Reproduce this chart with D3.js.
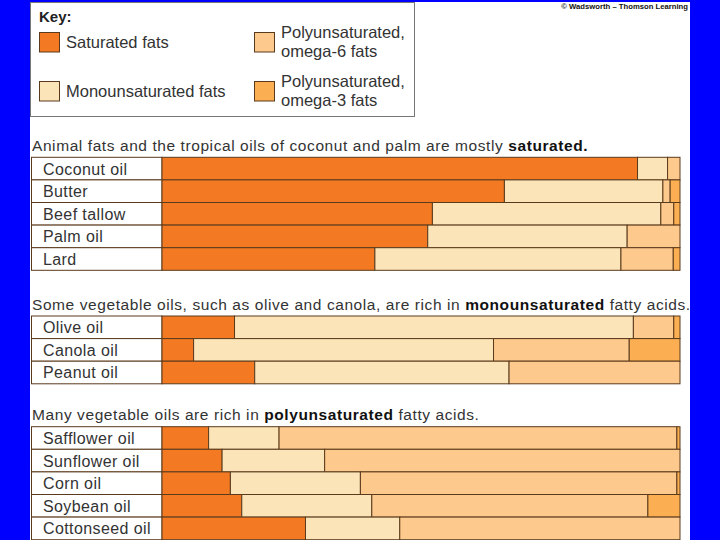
<!DOCTYPE html>
<html>
<head>
<meta charset="utf-8">
<script src="https://cdn.jsdelivr.net/npm/d3@7"></script>
<style>
  body { margin: 0; background: #0000ff; }
  svg { display: block; }
  text { font-family: "Liberation Sans", Arial, sans-serif; }
</style>
</head>
<body>
<script>
// fat composition of common fats and oils (percent of total fat)

var oils = ["Coconut oil", "Butter", "Beef tallow", "Palm oil", "Lard",
  "Olive oil", "Canola oil", "Peanut oil",
  "Safflower oil", "Sunflower oil", "Corn oil", "Soybean oil", "Cottonseed oil"];
var groupOf = [0, 0, 0, 0, 0, 1, 1, 1, 2, 2, 2, 2, 2];

var saturated = [91.8, 66.1, 52.2, 51.3, 41.1, 14.0, 6.1, 17.9, 9.0, 11.6, 13.2, 15.4, 27.7];
var mono      = [5.8, 30.6, 44.1, 38.5, 47.5, 77.0, 57.9, 49.1, 13.6, 19.8, 25.1, 25.1, 18.2];
var omega6    = [2.4, 1.4, 2.5, 10.2, 10.1, 7.8, 26.2, 33.0, 76.8, 68.6, 61.1, 53.3, 54.1];
var omega3    = [0, 1.9, 1.2, 0, 1.3, 1.2, 9.8, 0, 0.6, 0, 0.6, 6.2, 0];

var titleBefore = ["Animal fats and the tropical oils of coconut and palm are mostly ",
  "Some vegetable oils, such as olive and canola, are rich in ",
  "Many vegetable oils are rich in "];
var titleBold = ["saturated.", "monounsaturated", "polyunsaturated"];
var titleAfter = ["", " fatty acids.", " fatty acids."];

var keyNames = ["Saturated fats", "Monounsaturated fats",
  "Polyunsaturated,\nomega-6 fats", "Polyunsaturated,\nomega-3 fats"];

var colors = ["#f37a22", "#fbe4b7", "#fdc98c", "#fbae52"];
var lineColor = "#5a3a1c";

var svg = d3.select("body").append("svg")
  .attr("width", 720)
  .attr("height", 540);

// white page
svg.append("rect")
  .attr("x", 30).attr("y", 2)
  .attr("width", 660).attr("height", 540)
  .attr("fill", "#fff");

svg.append("text")
  .attr("x", 688).attr("y", 9)
  .attr("text-anchor", "end")
  .attr("font-size", 7.7).attr("font-weight", "bold")
  .attr("fill", "#111")
  .text("\u00a9 Wadsworth \u2013 Thomson Learning");

// key
var key = svg.append("g");
key.append("rect")
  .attr("x", 30.5).attr("y", 2.5)
  .attr("width", 384).attr("height", 114)
  .attr("fill", "#fff").attr("stroke", "#777");
key.append("text")
  .attr("x", 39).attr("y", 22)
  .attr("font-size", 15).attr("font-weight", "bold")
  .attr("fill", "#222")
  .text("Key:");

var keyPos = [[39, 32], [39, 81], [254, 32], [254, 81]];
var keyItems = key.selectAll(".key-item").data(keyNames)
  .enter().append("g")
  .attr("class", "key-item")
  .attr("transform", function(d, i) { return "translate(" + keyPos[i][0] + "," + keyPos[i][1] + ")"; });

keyItems.append("rect")
  .attr("x", 0.5).attr("y", 0.5)
  .attr("width", 20).attr("height", 19.5)
  .attr("fill", function(d, i) { return colors[i]; })
  .attr("stroke", lineColor);

keyItems.each(function(d) {
  var lines = d.split("\n");
  var t = d3.select(this).append("text")
    .attr("font-size", 16.5)
    .attr("fill", "#333");
  lines.forEach(function(line, j) {
    t.append("tspan")
      .attr("x", 27)
      .attr("y", lines.length == 1 ? 16 : 6 + j * 18.5)
      .text(line);
  });
});

// bars
var x = d3.scaleLinear().domain([0, 100]).range([162, 680]);
var rowH = 22.6;
var groupTop = [157.3, 316, 426.7];
var labelLeft = 31;

var groupNames = [0, 1, 2].map(function(g) {
  return oils.filter(function(d, i) { return groupOf[i] == g; });
});
var yScales = groupNames.map(function(names, g) {
  return d3.scaleBand().domain(names)
    .range([groupTop[g], groupTop[g] + names.length * rowH]);
});

// titles
var titles = svg.selectAll(".title").data(titleBefore)
  .enter().append("text")
  .attr("class", "title")
  .attr("x", 32)
  .attr("y", function(d, g) { return groupTop[g] - 6.5; })
  .attr("font-size", 15.5)
  .attr("letter-spacing", 0.58)
  .attr("fill", "#333");
titles.append("tspan").text(function(d) { return d; });
titles.append("tspan").attr("font-weight", "bold").attr("fill", "#111")
  .text(function(d, g) { return titleBold[g]; });
titles.append("tspan").text(function(d, g) { return titleAfter[g]; });

var rows = oils.map(function(name, i) {
  var y = yScales[groupOf[i]];
  var vals = [saturated[i], mono[i], omega6[i], omega3[i]];
  var acc = 0;
  var segs = vals.map(function(v, k) {
    var s = {start: acc, end: acc + v, k: k};
    acc += v;
    return s;
  }).filter(function(s) { return s.end > s.start; });
  return {name: name, y: y(name), h: y.bandwidth(), segs: segs};
});

var rowG = svg.selectAll(".row").data(rows)
  .enter().append("g")
  .attr("class", "row")
  .attr("transform", function(d) { return "translate(0," + d.y + ")"; });

rowG.append("rect")
  .attr("x", labelLeft + 0.5).attr("y", 0)
  .attr("width", x(0) - labelLeft - 0.5)
  .attr("height", function(d) { return d.h; })
  .attr("fill", "#fff")
  .attr("stroke", lineColor).attr("stroke-width", 1);

rowG.selectAll(".seg").data(function(d) { return d.segs.map(function(s) { s.h = d.h; return s; }); })
  .enter().append("rect")
  .attr("class", "seg")
  .attr("x", function(s) { return x(s.start); })
  .attr("y", 0)
  .attr("width", function(s) { return x(s.end) - x(s.start); })
  .attr("height", function(s) { return s.h; })
  .attr("fill", function(s) { return colors[s.k]; })
  .attr("stroke", lineColor).attr("stroke-width", 1);

rowG.append("text")
  .attr("x", 43)
  .attr("y", function(d) { return d.h / 2 + 6; })
  .attr("font-size", 16)
  .attr("letter-spacing", 0.4)
  .attr("fill", "#333")
  .text(function(d) { return d.name; });
</script>
</body>
</html>
